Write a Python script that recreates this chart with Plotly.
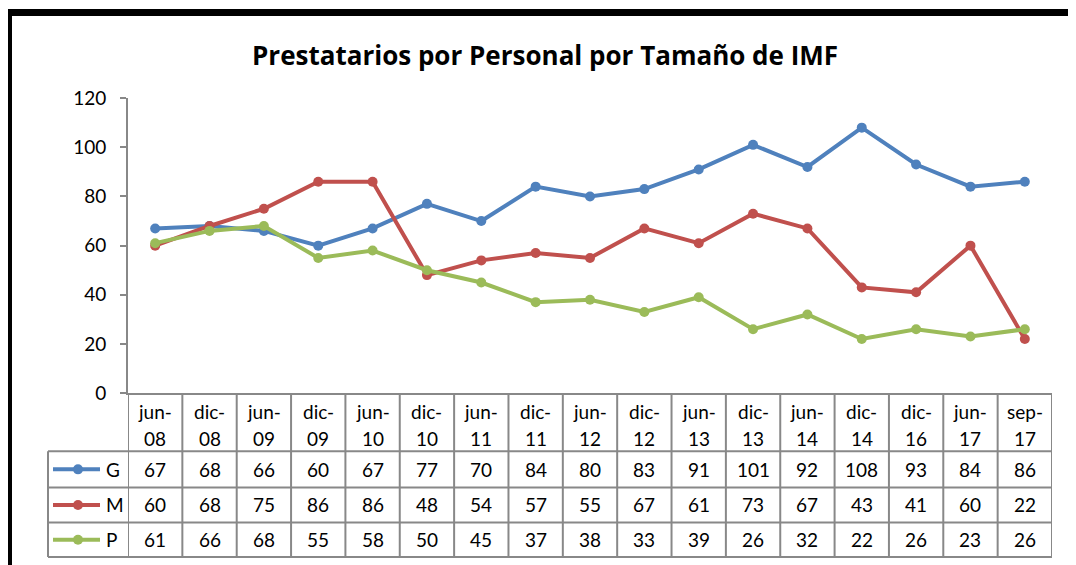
import plotly.graph_objects as go

# ---- data ----
categories = ["jun-08", "dic-08", "jun-09", "dic-09", "jun-10", "dic-10", "jun-11",
              "dic-11", "jun-12", "dic-12", "jun-13", "dic-13", "jun-14", "dic-14",
              "dic-16", "jun-17", "sep-17"]
series_names = ["G", "M", "P"]
g_values = [67, 68, 66, 60, 67, 77, 70, 84, 80, 83, 91, 101, 92, 108, 93, 84, 86]
m_values = [60, 68, 75, 86, 86, 48, 54, 57, 55, 67, 61, 73, 67, 43, 41, 60, 22]
p_values = [61, 66, 68, 55, 58, 50, 45, 37, 38, 33, 39, 26, 32, 22, 26, 23, 26]
y_ticks = [0, 20, 40, 60, 80, 100, 120]
title_text = "Prestatarios por Personal por Tamaño de IMF"

colors = ["#4F81BD", "#C0504D", "#9BBB59"]
values = [g_values, m_values, p_values]

W, H = 1060, 561
OX, OY, SY = 8, 21, 0.956  # page offset / vertical scale of the capture
FONT = "Lato, 'Open Sans', sans-serif"
TITLE_FONT = "'Open Sans', Lato, sans-serif"
GRID = "#888888"


def px(x):
    return (x - OX) / W


def py(y):
    return 1 - (y / SY - OY) / H


plot_left, plot_right = 128, 1052
y_top, y_zero = 98, 392
row_lines = [450, 486, 521, 555.5]

n = len(categories)
idx = list(range(n))

fig = go.Figure()
for name, vals, col in zip(series_names, values, colors):
    fig.add_trace(go.Scatter(
        x=idx, y=vals, name=name, mode="lines+markers",
        line=dict(color=col, width=4),
        marker=dict(color=col, size=10),
        showlegend=False, hoverinfo="x+y",
    ))

shapes = []
annotations = []

# outer black frame (partially cropped)
shapes.append(dict(type="rect", xref="paper", yref="paper",
                   x0=px(8.5), x1=px(1200), y0=py(12.5), y1=py(700),
                   line=dict(color="black", width=7), layer="above"))

# table vertical lines at category boundaries
for i in range(n + 1):
    shapes.append(dict(type="line", xref="x", yref="paper",
                       x0=i - 0.5, x1=i - 0.5, y0=py(y_zero), y1=py(row_lines[-1]),
                       line=dict(color=GRID, width=2)))
# legend column left border
shapes.append(dict(type="line", xref="paper", yref="paper",
                   x0=px(48), x1=px(48), y0=py(row_lines[0]), y1=py(row_lines[-1]),
                   line=dict(color=GRID, width=2)))
# horizontal lines
for yl in row_lines:
    shapes.append(dict(type="line", xref="paper", yref="paper",
                       x0=px(48), x1=px(plot_right), y0=py(yl), y1=py(yl),
                       line=dict(color=GRID, width=2)))

TXT = dict(family=FONT, size=19, color="black")

# header labels
for i, c in enumerate(categories):
    top, bottom = c.split("-")
    annotations.append(dict(x=i, y=py(410), xref="x", yref="paper", text=top + "-",
                            xanchor="center", yanchor="middle", showarrow=False, font=TXT))
    annotations.append(dict(x=i, y=py(437), xref="x", yref="paper", text=bottom,
                            xanchor="center", yanchor="middle", showarrow=False, font=TXT))

# table values + legend keys
for r, (name, vals, col) in enumerate(zip(series_names, values, colors)):
    yc = (row_lines[r] + row_lines[r + 1]) / 2
    for i, v in enumerate(vals):
        annotations.append(dict(x=i, y=py(yc), xref="x", yref="paper", text=str(v),
                                xanchor="center", yanchor="middle", showarrow=False, font=TXT))
    shapes.append(dict(type="line", xref="paper", yref="paper",
                       x0=px(53), x1=px(100), y0=py(yc), y1=py(yc),
                       line=dict(color=col, width=4)))
    shapes.append(dict(type="circle", xref="paper", yref="paper",
                       x0=px(73), x1=px(83), y0=py(yc + 5), y1=py(yc - 5),
                       fillcolor=col, line=dict(color=col, width=0)))
    annotations.append(dict(x=px(104), y=py(yc), xref="paper", yref="paper", text=name,
                            xanchor="left", yanchor="middle", showarrow=False, font=TXT))

# title
annotations.append(dict(x=px(545), y=py(55), xref="paper", yref="paper", text="<b>" + title_text + "</b>",
                        xanchor="center", yanchor="middle", showarrow=False,
                        font=dict(family=TITLE_FONT, size=26, color="black")))

fig.update_layout(
    width=W, height=H, autosize=False,
    margin=dict(l=0, r=0, t=0, b=0, pad=0),
    paper_bgcolor="white", plot_bgcolor="white",
    shapes=shapes, annotations=annotations,
    xaxis=dict(domain=[px(plot_left), px(plot_right)], range=[-0.5, n - 0.5],
               showgrid=False, zeroline=False, showticklabels=False,
               showline=True, linecolor=GRID, linewidth=2, ticks=""),
    yaxis=dict(domain=[py(y_zero), py(y_top)], range=[0, 120], tickvals=y_ticks,
               showgrid=False, zeroline=False, showline=True, linecolor=GRID, linewidth=2,
               ticks="outside", ticklen=6, tickcolor=GRID, tickwidth=2,
               ticklabelstandoff=10,
               tickfont=dict(family=FONT, size=19, color="black")),
)

fig.write_html("out.html")
